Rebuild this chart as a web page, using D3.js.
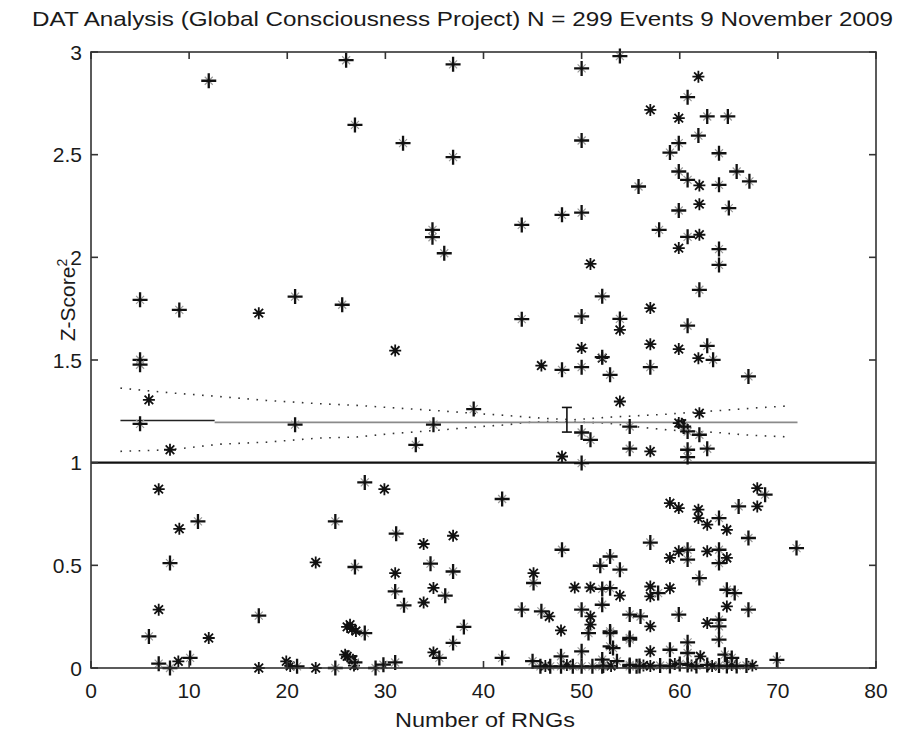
<!DOCTYPE html>
<html>
<head>
<meta charset="utf-8">
<script src="https://cdn.jsdelivr.net/npm/d3@7"></script>
<style>
  html, body { margin: 0; padding: 0; background: #fff; }
  svg { display: block; }
  text { font-family: "Liberation Sans", Arial, Helvetica, sans-serif; fill: #1a1a1a; }
</style>
</head>
<body>
<svg id="chart" width="898" height="730"></svg>
<script>
// ---------------- DATA ----------------
const titleText = "DAT Analysis (Global Consciousness Project) N = 299 Events 9 November 2009";
const xLabel = "Number of RNGs";
const yLabelMain = "Z-Score";
const yLabelSup = "2";
const xTicks = [0, 10, 20, 30, 40, 50, 60, 70, 80];
const yTicks = [0, 0.5, 1, 1.5, 2, 2.5, 3];
const yTickLabels = ["0", "0.5", "1", "1.5", "2", "2.5", "3"];

// events drawn with '+' marker
const plusX = [12.0, 26.0, 26.9, 36.9, 50.0, 53.9, 31.8, 36.9, 50.0, 55.8, 43.9, 48.0, 50.0, 34.8, 34.8, 36.0,
  60.8, 62.8, 64.9, 61.9, 59.9, 59.0, 64.0, 59.9, 60.8, 64.0, 65.8, 67.1, 59.9, 65.0, 57.9, 60.8, 64.0,
  64.0, 62.0, 52.1, 53.9, 60.8, 62.8, 63.4, 52.9, 57.0, 67.0, 54.9, 60.8, 62.0, 54.9, 60.8, 60.8, 62.8,
  25.6, 50.0, 43.9, 50.0, 52.1, 48.0, 39.0, 34.9, 33.1, 50.0, 50.9, 50.0, 5.0, 9.0, 20.8, 5.0, 5.0, 5.0, 20.8, 60.4,
  10.9, 8.05, 5.9, 6.9, 8.05, 10.1, 17.1, 21.0, 24.9, 24.9, 26.9, 27.9, 41.9, 31.1, 34.6, 36.9, 31.0, 36.1, 31.9,
  38.0, 36.9, 35.5, 27.9, 26.9, 29.0, 29.8, 31.0, 41.9, 45.1, 43.9, 45.9, 48.0, 52.1, 52.1, 52.9, 50.0, 50.7,
  52.9, 54.9, 52.9, 51.9, 53.9, 54.9, 52.9, 68.7, 66.0, 64.0, 67.0, 71.9, 57.0, 60.8, 60.8, 64.0, 64.0, 62.0,
  57.8, 64.8, 65.6, 67.0, 59.9, 56.0, 52.9, 54.9, 53.2, 64.0, 64.0, 64.0, 59.0, 60.8, 60.8, 64.6, 65.3, 69.9,
  45.0, 45.8, 46.8, 47.9, 47.9, 49.1, 50.0, 50.0, 51.1, 52.1, 52.1, 53.6, 54.9, 55.6,
  52.2, 54.9, 55.9, 58.0, 59.0, 60.8, 61.7, 64.0, 64.8, 65.8, 66.8, 60.0, 62.8];
const plusY = [2.86, 2.96, 2.645, 2.94, 2.92, 2.98, 2.556, 2.488, 2.569, 2.345, 2.158, 2.207, 2.218, 2.134, 2.098, 2.02,
  2.78, 2.686, 2.686, 2.593, 2.556, 2.51, 2.507, 2.418, 2.377, 2.353, 2.418, 2.37, 2.228, 2.24, 2.134, 2.10, 2.04,
  1.963, 1.842, 1.81, 1.70, 1.667, 1.569, 1.501, 1.428, 1.465, 1.42, 1.176, 1.152, 1.136, 1.068, 1.063, 1.027, 1.068,
  1.769, 1.712, 1.699, 1.465, 1.514, 1.452, 1.261, 1.185, 1.087, 1.147, 1.111, 0.998, 1.793, 1.744, 1.809, 1.501, 1.477, 1.189, 1.185, 1.176,
  0.714, 0.511, 0.154, 0.021, 0.0, 0.049, 0.255, 0.008, 0.0, 0.714, 0.492, 0.904, 0.823, 0.654, 0.508, 0.47, 0.373, 0.352, 0.305,
  0.2, 0.122, 0.049, 0.17, 0.027, 0.0, 0.016, 0.027, 0.049, 0.414, 0.284, 0.276, 0.576, 0.385, 0.308, 0.389, 0.284, 0.17,
  0.178, 0.138, 0.543, 0.498, 0.479, 0.26, 0.105, 0.844, 0.787, 0.73, 0.633, 0.584, 0.611, 0.576, 0.528, 0.576, 0.511, 0.438,
  0.365, 0.381, 0.365, 0.284, 0.26, 0.251, 0.17, 0.146, 0.097, 0.235, 0.203, 0.138, 0.089, 0.125, 0.073, 0.065, 0.049, 0.04,
  0.033, 0.008, 0.008, 0.057, 0.008, 0.008, 0.081, 0.008, 0.008, 0.041, 0.008, 0.033, 0.008, 0.008,
  0.012, 0.015, 0.01, 0.012, 0.01, 0.015, 0.01, 0.012, 0.01, 0.01, 0.012, 0.02, 0.015];

// events drawn with '*' marker
const starX = [61.9, 57.0, 59.9, 62.0, 62.0, 62.0, 59.9, 57.0, 53.9, 57.0, 59.9, 61.9, 52.1, 53.9, 62.0, 57.0, 50.9,
  31.0, 50.0, 45.9, 48.0, 5.9, 17.1, 8.05, 59.9, 60.2,
  6.9, 9.0, 6.9, 12.0, 8.9, 17.1, 19.9, 22.9, 22.9, 26.1, 26.6, 27.0, 25.9, 26.7, 29.9, 33.9, 36.9, 31.0, 34.9,
  33.9, 34.9, 26.4, 26.1, 45.1, 46.7, 47.9, 49.3, 50.9, 53.9, 50.9, 50.9, 67.9, 67.9, 59.0, 59.9, 61.9, 61.9,
  62.8, 64.8, 59.9, 59.0, 62.8, 64.8, 57.0, 57.0, 59.0, 64.8, 57.0, 62.8, 57.0, 62.1,
  46.3, 48.5, 53.0, 56.3, 57.0, 59.5, 61.2, 63.3, 65.3, 67.4, 20.3, 26.8];
const starY = [2.88, 2.718, 2.678, 2.35, 2.259, 2.11, 2.045, 1.753, 1.647, 1.577, 1.553, 1.509, 1.509, 1.298, 1.241, 1.055, 1.968,
  1.546, 1.558, 1.473, 1.03, 1.306, 1.728, 1.063, 1.193, 1.19,
  0.871, 0.678, 0.284, 0.146, 0.032, 0.0, 0.032, 0.0, 0.514, 0.2, 0.19, 0.18, 0.065, 0.04, 0.871, 0.604, 0.644, 0.462, 0.39,
  0.319, 0.076, 0.211, 0.057, 0.462, 0.251, 0.183, 0.392, 0.392, 0.352, 0.251, 0.211, 0.876, 0.787, 0.803, 0.779, 0.771, 0.73,
  0.698, 0.673, 0.568, 0.536, 0.568, 0.536, 0.397, 0.349, 0.389, 0.30, 0.203, 0.219, 0.081, 0.057,
  0.01, 0.015, 0.01, 0.012, 0.01, 0.02, 0.012, 0.01, 0.015, 0.012, 0.01, 0.012];

// running mean line and its confidence band
const meanX = [3, 12.6, 12.6, 72];
const meanY = [1.205, 1.205, 1.196, 1.196];
const bandX = [3, 8.1, 13.1, 17.9, 23.3, 27.1, 30.5, 35.4, 39.7, 42.3, 44.4, 46.4, 49.2, 52.6, 56.3, 58.7, 60.0, 63.8, 66.5, 67.5, 71.3];
const bandUpper = [1.363, 1.34, 1.322, 1.303, 1.287, 1.279, 1.268, 1.253, 1.238, 1.23, 1.222, 1.215, 1.209, 1.221, 1.23, 1.236, 1.241, 1.253, 1.262, 1.266, 1.277];
const bandLower = [1.055, 1.063, 1.09, 1.1, 1.12, 1.125, 1.141, 1.158, 1.176, 1.184, 1.196, 1.2, 1.198, 1.193, 1.171, 1.16, 1.156, 1.147, 1.136, 1.133, 1.125];
// overall mean error bar
const errX = [48.5];
const errLow = [1.149];
const errHigh = [1.269];

// ---------------- CHART ----------------
const svg = d3.select("#chart");
const x = d3.scaleLinear().domain([0, 80]).range([91, 876]);
const y = d3.scaleLinear().domain([0, 3]).range([668, 52]);
const tickLen = 7;
const fs = 21;

// title & labels
svg.append("text").attr("x", 32).attr("y", 26).attr("text-anchor", "start")
  .attr("font-size", fs).attr("textLength", 861).attr("lengthAdjust", "spacingAndGlyphs").text(titleText);
svg.append("text").attr("x", 395).attr("y", 727).attr("text-anchor", "start")
  .attr("font-size", fs).attr("textLength", 180).attr("lengthAdjust", "spacingAndGlyphs").text(xLabel);
const yl = svg.append("text").attr("transform", "translate(75,300) rotate(-90)").attr("text-anchor", "middle")
  .attr("font-size", fs);
yl.append("tspan").text(yLabelMain);
yl.append("tspan").attr("dy", -8).attr("font-size", 14).text(yLabelSup);

const plot = svg.append("g");

// reference line at Z^2 = 1
plot.append("line").attr("x1", x(0)).attr("x2", x(80)).attr("y1", y(1)).attr("y2", y(1))
  .attr("stroke", "#111").attr("stroke-width", 2.2);

// band (dotted)
const bandLine = (arr) => d3.line().x((d, i) => x(bandX[i])).y((d) => y(d))(arr);
[bandUpper, bandLower].forEach(arr => {
  plot.append("path").attr("d", bandLine(arr)).attr("fill", "none")
    .attr("stroke", "#333").attr("stroke-width", 1.6).attr("stroke-dasharray", "1.6,7.5");
});

// mean line (two segments)
plot.append("line").attr("x1", x(meanX[0])).attr("x2", x(meanX[1])).attr("y1", y(meanY[0])).attr("y2", y(meanY[1]))
  .attr("stroke", "#222").attr("stroke-width", 1.6);
plot.append("line").attr("x1", x(meanX[2])).attr("x2", x(meanX[3])).attr("y1", y(meanY[2])).attr("y2", y(meanY[3]))
  .attr("stroke", "#8a8a8a").attr("stroke-width", 1.8);

// error bar
errX.forEach((ex, i) => {
  const g = plot.append("g").attr("stroke", "#111").attr("stroke-width", 1.6);
  g.append("line").attr("x1", x(ex)).attr("x2", x(ex)).attr("y1", y(errLow[i])).attr("y2", y(errHigh[i]));
  g.append("line").attr("x1", x(ex) - 5).attr("x2", x(ex) + 5).attr("y1", y(errLow[i])).attr("y2", y(errLow[i]));
  g.append("line").attr("x1", x(ex) - 5).attr("x2", x(ex) + 5).attr("y1", y(errHigh[i])).attr("y2", y(errHigh[i]));
});

// markers
const plusPath = "M-7.5,0H7.5M0,-7.5V7.5";
const plusDiag = "M-4,-4L4,4M-4,4L4,-4";
const starPath = "M-6,0H6M0,-6V6M-4.3,-4.3L4.3,4.3M-4.3,4.3L4.3,-4.3";

const starG = plot.append("g");
starX.forEach((sx, i) => {
  starG.append("path").attr("transform", `translate(${x(sx)},${y(starY[i])})`)
    .attr("d", starPath).attr("fill", "none").attr("stroke", "#111").attr("stroke-width", 1.8);
});
const plusG = plot.append("g");
plusX.forEach((px, i) => {
  const t = `translate(${x(px)},${y(plusY[i])})`;
  plusG.append("path").attr("transform", t).attr("d", plusDiag).attr("fill", "none")
    .attr("stroke", "#9a9a9a").attr("stroke-width", 1.2);
  plusG.append("path").attr("transform", t).attr("d", plusPath).attr("fill", "none")
    .attr("stroke", "#111").attr("stroke-width", 2.3);
});

// axes box
const box = svg.append("g").attr("stroke", "#333").attr("stroke-width", 1.6).attr("fill", "none");
box.append("rect").attr("x", x(0)).attr("y", y(3)).attr("width", x(80) - x(0)).attr("height", y(0) - y(3));

// ticks (inside) on all sides
xTicks.forEach(t => {
  box.append("line").attr("x1", x(t)).attr("x2", x(t)).attr("y1", y(0)).attr("y2", y(0) - tickLen);
  box.append("line").attr("x1", x(t)).attr("x2", x(t)).attr("y1", y(3)).attr("y2", y(3) + tickLen);
});
yTicks.forEach(t => {
  box.append("line").attr("x1", x(0)).attr("x2", x(0) + tickLen).attr("y1", y(t)).attr("y2", y(t));
  box.append("line").attr("x1", x(80)).attr("x2", x(80) - tickLen).attr("y1", y(t)).attr("y2", y(t));
});

// tick labels
svg.append("g").selectAll("text").data(xTicks).join("text")
  .attr("x", d => x(d)).attr("y", 698).attr("text-anchor", "middle").attr("font-size", fs)
  .text(d => String(d));
svg.append("g").selectAll("text").data(yTicks).join("text")
  .attr("x", 82).attr("y", d => y(d) + 7.5).attr("text-anchor", "end").attr("font-size", fs)
  .text((d, i) => yTickLabels[i]);
</script>
</body>
</html>
